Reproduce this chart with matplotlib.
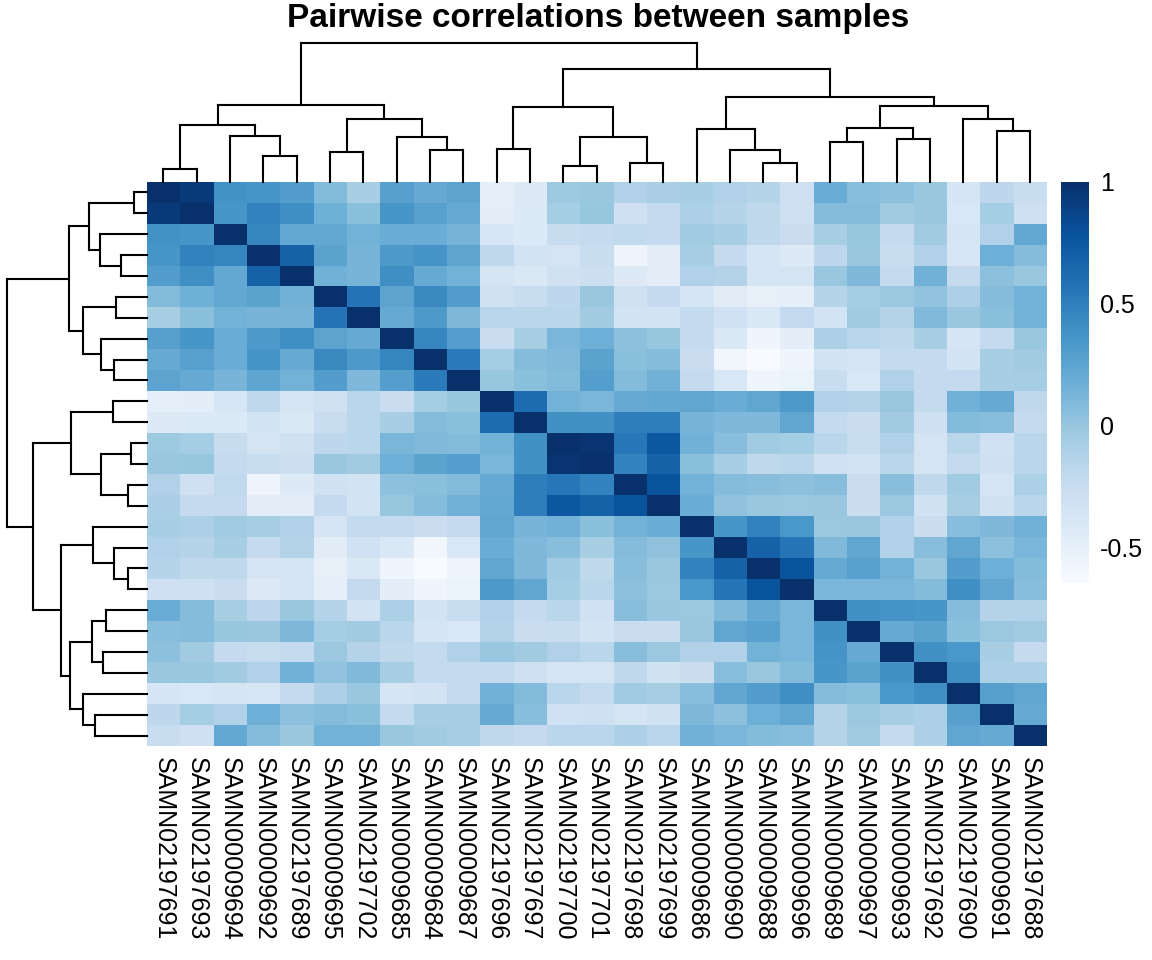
import numpy as np
import matplotlib
matplotlib.use("Agg")
import matplotlib.pyplot as plt

plt.rcParams['font.family'] = ['Liberation Sans', 'DejaVu Sans']

# sample order as shown (rows and columns share it)
samples = ['SAMN02197691', 'SAMN02197693', 'SAMN00009694', 'SAMN00009692',
           'SAMN02197689', 'SAMN00009695', 'SAMN02197702', 'SAMN00009685',
           'SAMN00009684', 'SAMN00009687', 'SAMN02197696', 'SAMN02197697',
           'SAMN02197700', 'SAMN02197701', 'SAMN02197698', 'SAMN02197699',
           'SAMN00009686', 'SAMN00009690', 'SAMN00009688', 'SAMN00009696',
           'SAMN00009689', 'SAMN00009697', 'SAMN00009693', 'SAMN02197692',
           'SAMN02197690', 'SAMN00009691', 'SAMN02197688']

# upper triangle of the correlation matrix, row i holds columns i+1 .. end
upper = [
    [0.93, 0.38, 0.35, 0.30, 0.08, -0.08, 0.28, 0.20, 0.25, -0.50, -0.43, -0.03, -0.01,
     -0.12, -0.09, -0.08, -0.12, -0.15, -0.30, 0.19, 0.06, 0.04, -0.01, -0.37, -0.19, -0.26],
    [0.35, 0.48, 0.40, 0.16, 0.05, 0.35, 0.27, 0.20, -0.48, -0.42, -0.06, 0.00,
     -0.30, -0.22, -0.10, -0.15, -0.20, -0.30, 0.07, 0.07, -0.05, -0.01, -0.39, -0.06, -0.30],
    [0.46, 0.22, 0.22, 0.14, 0.19, 0.19, 0.13, -0.38, -0.42, -0.25, -0.23,
     -0.21, -0.23, -0.04, -0.08, -0.20, -0.27, -0.08, 0.00, -0.23, -0.05, -0.37, -0.12, 0.22],
    [0.68, 0.26, 0.13, 0.33, 0.36, 0.24, -0.20, -0.34, -0.35, -0.26,
     -0.56, -0.48, -0.08, -0.23, -0.37, -0.43, -0.19, -0.01, -0.26, -0.12, -0.38, 0.17, 0.07],
    [0.15, 0.13, 0.40, 0.20, 0.14, -0.36, -0.41, -0.32, -0.29,
     -0.43, -0.47, -0.12, -0.14, -0.37, -0.35, -0.01, 0.10, -0.22, 0.15, -0.23, 0.04, -0.01],
    [0.57, 0.25, 0.43, 0.30, -0.32, -0.26, -0.19, -0.01,
     -0.32, -0.23, -0.37, -0.46, -0.51, -0.49, -0.15, -0.06, -0.02, 0.02, -0.11, 0.07, 0.14],
    [0.20, 0.33, 0.10, -0.17, -0.17, -0.17, -0.05,
     -0.34, -0.34, -0.22, -0.31, -0.40, -0.23, -0.34, -0.05, -0.14, 0.09, -0.01, 0.05, 0.14],
    [0.46, 0.29, -0.27, -0.08, 0.12, 0.17,
     0.04, 0.00, -0.22, -0.40, -0.57, -0.48, -0.10, -0.17, -0.20, -0.08, -0.37, -0.22, -0.01],
    [0.52, -0.06, 0.07, 0.09, 0.26,
     0.05, 0.07, -0.27, -0.59, -0.64, -0.57, -0.34, -0.37, -0.22, -0.22, -0.34, -0.08, -0.05],
    [0.00, 0.05, 0.08, 0.29,
     0.08, 0.15, -0.23, -0.39, -0.57, -0.54, -0.26, -0.39, -0.12, -0.22, -0.23, -0.08, -0.07],
    [0.62, 0.14, 0.12,
     0.20, 0.22, 0.23, 0.19, 0.23, 0.33, -0.12, -0.14, -0.01, -0.22, 0.15, 0.20, -0.20],
    [0.39, 0.39,
     0.50, 0.50, 0.13, 0.10, 0.10, 0.23, -0.22, -0.27, -0.05, -0.30, 0.08, 0.06, -0.23],
    [0.97,
     0.55, 0.75, 0.15, 0.06, -0.04, -0.06, -0.17, -0.26, -0.12, -0.36, -0.17, -0.31, -0.17],
    [0.47, 0.68, 0.05, -0.08, -0.20, -0.17, -0.31, -0.34, -0.17, -0.36, -0.22, -0.30, -0.17],
    [0.78, 0.14, 0.07, 0.06, 0.04, 0.06, -0.27, 0.06, -0.20, -0.04, -0.37, -0.10],
    [0.18, 0.03, -0.01, -0.02, -0.01, -0.28, -0.02, -0.33, -0.08, -0.33, -0.17],
    [0.35, 0.48, 0.34, -0.02, -0.01, -0.12, -0.28, 0.06, 0.10, 0.15],
    [0.68, 0.56, 0.09, 0.23, -0.12, 0.06, 0.23, 0.04, 0.12],
    [0.78, 0.20, 0.27, 0.14, -0.01, 0.30, 0.17, 0.08],
    [0.12, 0.12, 0.12, 0.08, 0.40, 0.23, 0.06],
    [0.39, 0.36, 0.35, 0.07, -0.14, -0.14],
    [0.20, 0.26, 0.05, -0.02, -0.05],
    [0.39, 0.34, -0.08, -0.23],
    [0.40, -0.10, -0.10],
    [0.28, 0.23],
    [0.20],
]

# hierarchical clustering merges (child a, child b, height); leaves 0..26, new ids from 27
merges = [
    (0, 1, 13), (3, 4, 26), (2, 28, 46), (27, 29, 57), (5, 6, 30), (8, 9, 32),
    (7, 32, 45), (31, 33, 63), (30, 34, 77), (10, 11, 33), (12, 13, 16), (14, 15, 19),
    (37, 38, 45), (36, 39, 75), (18, 19, 19), (17, 41, 32), (16, 42, 53), (20, 21, 40),
    (22, 23, 43), (44, 45, 54), (25, 26, 51), (24, 47, 63), (46, 48, 76), (43, 49, 85),
    (40, 50, 113), (35, 51, 139),
]

n = len(samples)
mat = np.eye(n)
for i, row in enumerate(upper):
    for k, v in enumerate(row):
        j = i + 1 + k
        mat[i, j] = v
        mat[j, i] = v

vmin, vmax = -0.643, 1.0

fig = plt.figure(figsize=(11.52, 9.6), dpi=100)
W, H = 1152, 960


def box(x0, y0, x1, y1):
    return [x0 / W, 1 - y1 / H, (x1 - x0) / W, (y1 - y0) / H]


ax = fig.add_axes(box(146.7, 182, 1046.7, 746))
im = ax.imshow(mat, cmap='Blues', vmin=vmin, vmax=vmax, aspect='auto',
               interpolation='nearest', extent=(0, n, n, 0))
ax.set_xticks(np.arange(n) + 0.5)
ax.set_xticklabels(samples, rotation=270, fontsize=18, ha='center', va='top')
ax.set_yticks([])
ax.tick_params(axis='x', length=0, pad=8)
for s in ax.spines.values():
    s.set_visible(False)

# dendrogram segments
pos = {i: i + 0.5 for i in range(n)}
hgt = {i: 0.0 for i in range(n)}
segs = []
for k, (a, b, h) in enumerate(merges):
    segs.append(((pos[a], hgt[a]), (pos[a], h)))
    segs.append(((pos[b], hgt[b]), (pos[b], h)))
    segs.append(((pos[a], h), (pos[b], h)))
    pos[n + k] = (pos[a] + pos[b]) / 2
    hgt[n + k] = h
top = merges[-1][2]

axc = fig.add_axes(box(146.7, 42.7, 1046.7, 182))
axr = fig.add_axes(box(6.7, 182, 146.7, 746))
for (p0, h0), (p1, h1) in segs:
    axc.plot([p0, p1], [h0, h1], color='black', lw=1.5, solid_capstyle='projecting', clip_on=False)
    axr.plot([h0, h1], [p0, p1], color='black', lw=1.5, solid_capstyle='projecting', clip_on=False)
axc.set_xlim(0, n)
axc.set_ylim(0, top)
axr.set_ylim(n, 0)
axr.set_xlim(top, 0)
for a in (axc, axr):
    a.axis('off')

cax = fig.add_axes(box(1061, 181.7, 1089, 582.7))
cb = fig.colorbar(im, cax=cax, ticks=[-0.5, 0, 0.5, 1])
cb.ax.set_yticklabels(['-0.5', '0', '0.5', '1'])
cb.ax.tick_params(length=0, labelsize=18, pad=8)
cb.outline.set_visible(False)

fig.text(598 / W, 1 - 19 / H, 'Pairwise correlations between samples',
         ha='center', va='center', fontsize=24, fontweight='bold')

fig.savefig('out.png', dpi=100)
